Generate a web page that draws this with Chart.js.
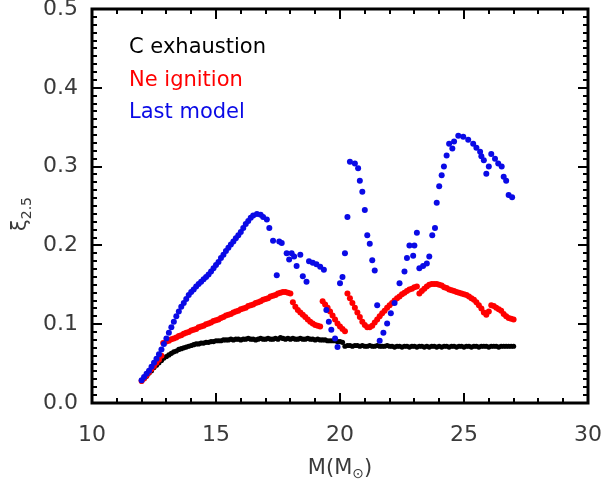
<!DOCTYPE html>
<html lang="en">
<head>
<meta charset="UTF-8">
<title>xi 2.5 vs mass</title>
<style>
    body { margin: 0; background: #fff; }
    #chart { display: block; }
</style>
<script src="https://cdn.jsdelivr.net/npm/chart.js"></script>
</head>
<body>
<canvas id="chart" width="605" height="481"></canvas>
<script>
// series: [M, xi_2.5]
const cExhaustion = [
    [12.0,0.028],[12.1,0.031],[12.2,0.034],[12.3,0.038],[12.4,0.041],[12.5,0.045],[12.6,0.048],[12.7,0.051],[12.8,0.054],[12.9,0.057],
    [13.0,0.059],[13.1,0.061],[13.2,0.063],[13.3,0.065],[13.4,0.066],[13.5,0.068],[13.6,0.069],[13.7,0.070],[13.8,0.071],[13.9,0.072],
    [14.0,0.073],[14.1,0.074],[14.2,0.075],[14.3,0.075],[14.4,0.076],[14.5,0.076],[14.6,0.077],[14.7,0.077],[14.8,0.078],[14.9,0.078],
    [15.0,0.079],[15.1,0.079],[15.2,0.079],[15.3,0.080],[15.4,0.080],[15.5,0.080],[15.6,0.081],[15.7,0.080],[15.8,0.081],[15.9,0.081],
    [16.0,0.080],[16.1,0.081],[16.2,0.081],[16.3,0.082],[16.4,0.081],[16.5,0.081],[16.6,0.080],[16.7,0.081],[16.8,0.082],[16.9,0.081],
    [17.0,0.081],[17.1,0.082],[17.2,0.081],[17.3,0.081],[17.4,0.082],[17.5,0.081],[17.6,0.083],[17.7,0.082],[17.8,0.081],[17.9,0.082],
    [18.0,0.081],[18.1,0.082],[18.2,0.081],[18.3,0.081],[18.4,0.082],[18.5,0.081],[18.6,0.081],[18.7,0.082],[18.8,0.081],[18.9,0.081],
    [19.0,0.080],[19.1,0.081],[19.2,0.080],[19.3,0.080],[19.4,0.080],[19.5,0.079],[19.6,0.079],[19.7,0.079],[19.8,0.079],[19.9,0.078],
    [20.0,0.078],[20.1,0.077],[20.2,0.072],[20.3,0.073],[20.4,0.073],[20.5,0.072],[20.6,0.073],[20.7,0.073],[20.8,0.072],[20.9,0.073],
    [21.0,0.072],[21.1,0.072],[21.2,0.073],[21.3,0.072],[21.4,0.072],[21.5,0.073],[21.6,0.072],[21.7,0.072],[21.8,0.072],[21.9,0.073],
    [22.0,0.072],[22.1,0.072],[22.2,0.071],[22.3,0.072],[22.4,0.072],[22.5,0.071],[22.6,0.072],[22.7,0.072],[22.8,0.071],[22.9,0.072],
    [23.0,0.072],[23.1,0.071],[23.2,0.072],[23.3,0.072],[23.4,0.071],[23.5,0.072],[23.6,0.071],[23.7,0.072],[23.8,0.072],[23.9,0.071],
    [24.0,0.072],[24.1,0.071],[24.2,0.072],[24.3,0.072],[24.4,0.071],[24.5,0.072],[24.6,0.072],[24.7,0.071],[24.8,0.072],[24.9,0.072],
    [25.0,0.071],[25.1,0.072],[25.2,0.072],[25.3,0.071],[25.4,0.072],[25.5,0.072],[25.6,0.071],[25.7,0.072],[25.8,0.072],[25.9,0.072],
    [26.0,0.071],[26.1,0.072],[26.2,0.072],[26.3,0.072],[26.4,0.071],[26.5,0.072],[26.6,0.072],[26.7,0.072],[26.8,0.072],[26.9,0.072],
    [27.0,0.072]
];

const neIgnition = [
    [12.0,0.028],[12.1,0.031],[12.2,0.035],[12.3,0.039],[12.4,0.043],[12.5,0.047],[12.6,0.051],[12.7,0.055],[12.8,0.060],[12.87,0.076],
    [13.0,0.078],[13.1,0.079],[13.2,0.081],[13.3,0.082],[13.4,0.083],[13.5,0.085],[13.6,0.086],[13.7,0.088],[13.8,0.089],[13.9,0.090],
    [14.0,0.092],[14.1,0.093],[14.2,0.094],[14.3,0.096],[14.4,0.097],[14.5,0.098],[14.6,0.100],[14.7,0.101],[14.8,0.102],[14.9,0.104],
    [15.0,0.105],[15.1,0.106],[15.2,0.108],[15.3,0.109],[15.4,0.111],[15.5,0.112],[15.6,0.113],[15.7,0.115],[15.8,0.116],[15.9,0.117],
    [16.0,0.119],[16.1,0.120],[16.2,0.121],[16.3,0.123],[16.4,0.124],[16.5,0.125],[16.6,0.127],[16.7,0.128],[16.8,0.129],[16.9,0.131],
    [17.0,0.132],[17.1,0.133],[17.2,0.135],[17.3,0.136],[17.4,0.137],[17.5,0.139],[17.6,0.140],[17.7,0.141],[17.8,0.141],[17.9,0.140],
    [18.0,0.139],[18.1,0.128],[18.2,0.122],[18.3,0.118],[18.4,0.115],[18.5,0.112],[18.6,0.109],[18.7,0.106],[18.8,0.103],[18.9,0.101],
    [19.0,0.099],[19.1,0.098],[19.2,0.097],
    [19.3,0.129],[19.4,0.125],[19.5,0.121],[19.6,0.116],[19.7,0.111],[19.8,0.106],[19.9,0.101],[20.0,0.097],[20.1,0.094],[20.2,0.091],
    [20.3,0.139],[20.4,0.133],[20.5,0.127],[20.6,0.121],[20.7,0.115],[20.8,0.109],[20.9,0.103],[21.0,0.099],[21.1,0.096],[21.2,0.096],
    [21.3,0.098],[21.4,0.102],[21.5,0.106],[21.6,0.110],[21.7,0.114],[21.8,0.117],[21.9,0.121],[22.0,0.124],[22.1,0.127],[22.2,0.130],
    [22.3,0.133],[22.4,0.135],[22.5,0.138],[22.6,0.140],[22.7,0.142],[22.8,0.144],[22.9,0.145],[23.0,0.147],[23.1,0.148],
    [23.2,0.139],[23.3,0.142],[23.4,0.145],[23.5,0.148],[23.6,0.150],[23.7,0.151],[23.8,0.151],[23.9,0.151],[24.0,0.150],[24.1,0.149],
    [24.2,0.147],[24.3,0.146],[24.4,0.144],[24.5,0.143],[24.6,0.142],[24.7,0.141],[24.8,0.140],[24.9,0.139],[25.0,0.138],[25.1,0.137],
    [25.2,0.135],[25.3,0.133],[25.4,0.131],[25.5,0.128],[25.6,0.124],[25.7,0.120],[25.8,0.115],[25.9,0.112],[26.0,0.116],[26.1,0.124],
    [26.2,0.123],[26.3,0.121],[26.4,0.119],[26.5,0.117],[26.6,0.113],[26.7,0.110],[26.8,0.108],[26.9,0.107],[27.0,0.106]
];

const lastModel = [
    [12.0,0.029],[12.1,0.033],[12.2,0.037],[12.3,0.041],[12.4,0.046],[12.5,0.051],[12.6,0.056],[12.7,0.062],[12.8,0.068],[12.9,0.075],
    [13.0,0.082],[13.1,0.089],[13.2,0.096],[13.3,0.103],[13.4,0.110],[13.5,0.116],[13.6,0.122],[13.7,0.127],[13.8,0.132],[13.9,0.137],
    [14.0,0.141],[14.1,0.144],[14.2,0.148],[14.3,0.151],[14.4,0.154],[14.5,0.157],[14.6,0.160],[14.7,0.163],[14.8,0.167],[14.9,0.171],
    [15.0,0.175],[15.1,0.179],[15.2,0.184],[15.3,0.188],[15.4,0.193],[15.5,0.197],[15.6,0.201],[15.7,0.205],[15.8,0.209],[15.9,0.213],
    [16.0,0.217],[16.1,0.222],[16.2,0.227],[16.3,0.231],[16.4,0.235],[16.5,0.238],[16.65,0.240],[16.8,0.239],[16.9,0.236],[17.05,0.233],
    [17.15,0.222],[17.3,0.206],[17.45,0.162],[17.55,0.205],[17.65,0.203],[17.85,0.190],[17.95,0.182],[18.05,0.190],[18.15,0.186],[18.25,0.174],
    [18.4,0.188],[18.5,0.161],[18.65,0.154],[18.75,0.180],[18.9,0.178],[19.05,0.176],[19.2,0.173],[19.35,0.169],
    [19.45,0.118],[19.55,0.103],[19.65,0.093],[19.8,0.082],[19.9,0.071],
    [20.0,0.152],[20.1,0.160],[20.2,0.190],[20.3,0.236],[20.4,0.306],[20.6,0.304],[20.73,0.298],[20.8,0.282],[20.9,0.268],[21.0,0.245],
    [21.1,0.213],[21.2,0.202],[21.3,0.181],[21.4,0.168],[21.5,0.124],[21.6,0.079],[21.75,0.089],[21.9,0.101],[22.05,0.114],[22.2,0.127],
    [22.4,0.152],[22.6,0.167],[22.7,0.184],[22.8,0.200],[22.95,0.187],[23.0,0.200],[23.1,0.216],[23.2,0.171],[23.35,0.174],[23.5,0.177],
    [23.6,0.186],[23.72,0.213],[23.83,0.222],[23.9,0.254],[24.0,0.275],[24.1,0.289],[24.19,0.300],[24.3,0.314],[24.4,0.329],[24.53,0.323],
    [24.6,0.332],[24.77,0.339],[24.97,0.338],[25.17,0.334],[25.37,0.329],[25.5,0.324],[25.65,0.319],[25.7,0.313],[25.8,0.308],[25.9,0.291],
    [26.0,0.300],[26.1,0.316],[26.25,0.310],[26.38,0.304],[26.52,0.300],[26.6,0.287],[26.7,0.282],[26.8,0.264],[26.94,0.261]
];

const seriesNames = ["C exhaustion", "Ne ignition", "Last model"];
const seriesColors = ["#000000", "#ff0000", "#0a0ae6"];
const xTickLabels = ["10", "15", "20", "25", "30"];
const yTickLabels = ["0.0", "0.1", "0.2", "0.3", "0.4", "0.5"];

const FONT = "'DejaVu Sans', sans-serif";

function toPoints(arr) {
    return arr.map(p => ({ x: p[0], y: p[1] }));
}

// IDL-style box with inward ticks, labels and the text legend
const idlFrame = {
    id: "idlFrame",
    afterDraw(chart) {
        const ctx = chart.ctx;
        const xs = chart.scales.x, ys = chart.scales.y;
        const a = chart.chartArea;
        ctx.save();
        ctx.strokeStyle = "#000";

        // minor + major ticks
        ctx.lineWidth = 2;
        ctx.beginPath();
        for (let i = 10; i <= 30; i++) {
            const px = Math.round(xs.getPixelForValue(i));
            const len = i % 5 === 0 ? 10 : 5;
            ctx.moveTo(px, a.bottom); ctx.lineTo(px, a.bottom - len);
            ctx.moveTo(px, a.top); ctx.lineTo(px, a.top + len);
        }
        for (let j = 0; j <= 50; j++) {
            const py = Math.round(ys.getPixelForValue(j / 100));
            const len = j % 10 === 0 ? 10 : 5;
            ctx.moveTo(a.left, py); ctx.lineTo(a.left + len, py);
            ctx.moveTo(a.right, py); ctx.lineTo(a.right - len, py);
        }
        ctx.stroke();

        ctx.lineWidth = 3;
        ctx.strokeRect(a.left, a.top, a.right - a.left, a.bottom - a.top);

        // tick labels
        ctx.fillStyle = "#3a3a3a";
        ctx.font = "22px " + FONT;
        ctx.textAlign = "center";
        ctx.textBaseline = "middle";
        xTickLabels.forEach(t => {
            ctx.fillText(t, xs.getPixelForValue(parseFloat(t)), a.bottom + 32);
        });
        ctx.textAlign = "right";
        yTickLabels.forEach(t => {
            ctx.fillText(t, a.left - 14, ys.getPixelForValue(parseFloat(t)));
        });

        // x title  M(M_sun)
        ctx.textAlign = "left";
        ctx.textBaseline = "alphabetic";
        const p1 = "M(M", p3 = ")";
        ctx.font = "21px " + FONT;
        const w1 = ctx.measureText(p1).width, w3 = ctx.measureText(p3).width;
        ctx.font = "14px " + FONT;
        const w2 = ctx.measureText("\u2299").width;
        const tx = (a.left + a.right) / 2 - (w1 + w2 + w3) / 2;
        const ty = 474;
        ctx.font = "21px " + FONT;
        ctx.fillText(p1, tx, ty);
        ctx.font = "14px " + FONT;
        ctx.fillText("\u2299", tx + w1, ty + 4);
        ctx.font = "21px " + FONT;
        ctx.fillText(p3, tx + w1 + w2, ty);

        // y title  xi_2.5
        ctx.save();
        ctx.translate(26, 214);
        ctx.rotate(-Math.PI / 2);
        ctx.font = "21px " + FONT;
        const wx = ctx.measureText("\u03BE").width;
        ctx.font = "14px " + FONT;
        const ws = ctx.measureText("2.5").width;
        const sx = -(wx + ws) / 2;
        ctx.font = "21px " + FONT;
        ctx.fillText("\u03BE", sx, 0);
        ctx.font = "14px " + FONT;
        ctx.fillText("2.5", sx + wx, 5);
        ctx.restore();

        // text legend
        ctx.font = "21px " + FONT;
        ctx.textBaseline = "middle";
        seriesNames.forEach((n, k) => {
            ctx.fillStyle = seriesColors[k];
            ctx.fillText(n, 129, 48 + k * 32.5);
        });
        ctx.restore();
    }
};

new Chart(document.getElementById("chart"), {
    type: "scatter",
    data: {
        datasets: [
            { label: seriesNames[2], data: toPoints(lastModel), backgroundColor: seriesColors[2], borderWidth: 0, pointRadius: 3, order: 1 },
            { label: seriesNames[1], data: toPoints(neIgnition), backgroundColor: seriesColors[1], borderWidth: 0, pointRadius: 3, order: 2 },
            { label: seriesNames[0], data: toPoints(cExhaustion), backgroundColor: seriesColors[0], borderWidth: 0, pointRadius: 2.6, order: 3 }
        ]
    },
    options: {
        responsive: false,
        animation: false,
        layout: { padding: { left: 92, right: 17, top: 9, bottom: 78 } },
        plugins: { legend: { display: false }, tooltip: { enabled: false } },
        scales: {
            x: { type: "linear", min: 10, max: 30, display: false },
            y: { type: "linear", min: 0, max: 0.5, display: false }
        }
    },
    plugins: [idlFrame]
});
</script>
</body>
</html>
